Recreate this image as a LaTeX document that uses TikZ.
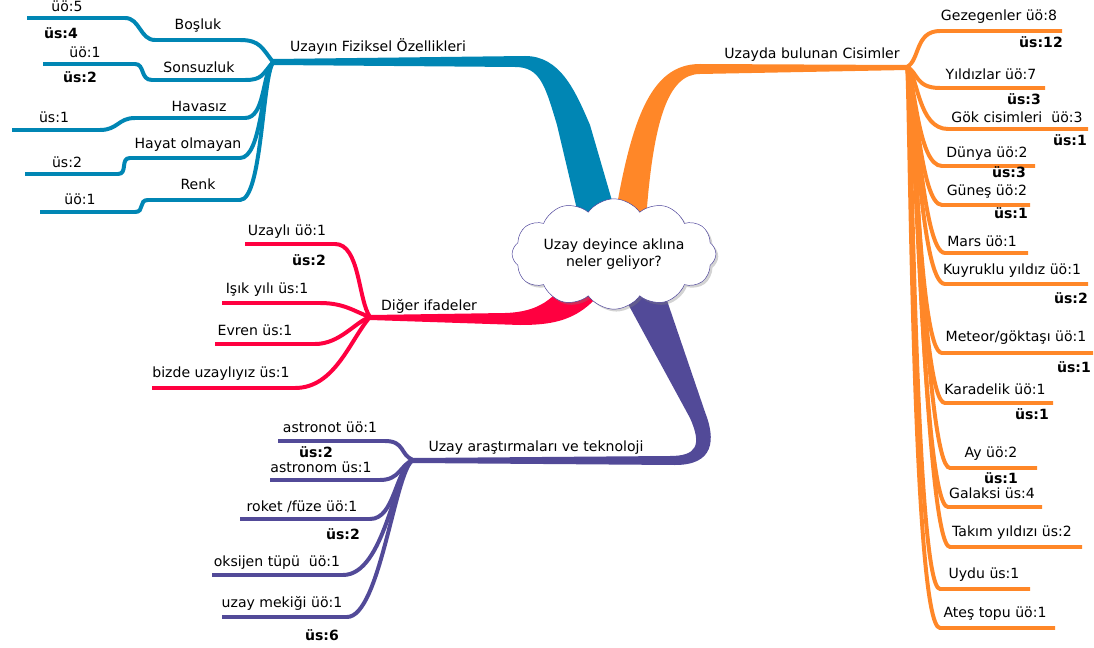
\documentclass[tikz,border=0pt]{standalone}
\usepackage{fontspec}
\setmainfont{DejaVu Sans}
\usetikzlibrary{shapes.symbols,shadows}
\definecolor{bluebr}{RGB}{0,134,180}
\definecolor{orangebr}{RGB}{255,135,40}
\definecolor{redbr}{RGB}{255,0,64}
\definecolor{purplebr}{RGB}{82,74,152}
\definecolor{cloudline}{RGB}{70,60,150}
\tikzset{
  lbl/.style={font=\fontsize{12}{14}\selectfont, inner sep=0pt},
  blbl/.style={font=\fontsize{12}{14}\selectfont\bfseries, inner sep=0pt},
  sub/.style={line width=3.4pt},
}
\begin{document}
\begin{tikzpicture}[x=0.03cm, y=-0.03cm]
\useasboundingbox (0,0) rectangle (1094,648);
% forks
\coordinate (fb) at (273,62);
\coordinate (fo) at (907,67);
\coordinate (fr) at (370,317);
\coordinate (fp) at (413,460);
% main branches
\fill [bluebr] (273,59) -- (525,56) .. controls (560,56) and (575,90) .. (590,125) -- (622,235) -- (583,235) -- (557,125) .. controls (545,85) and (540,67) .. (515,67) -- (273,65) -- cycle;
\fill [orangebr] (612,235) .. controls (630,120) and (650,64) .. (700,64) -- (907,65) -- (907,70) -- (700,74) .. controls (668,74) and (652,120) .. (645,235) -- cycle;
\fill [redbr] (370,315) -- (505,313) .. controls (540,312) and (555,298) .. (570,275) -- (610,280) .. controls (585,318) and (560,325) .. (520,325) -- (370,320) -- cycle;
\fill [purplebr] (615,280) -- (690,418) .. controls (702,445) and (697,456) .. (670,456) -- (413,458) -- (413,463) -- (675,465) .. controls (714,465) and (716,440) .. (705,412) -- (660,280) -- cycle;
\node [cloud, cloud puffs=12, cloud puff arc=110, aspect=2.3, draw=cloudline, fill=white,
  drop shadow={shadow xshift=2pt, shadow yshift=-2pt, opacity=0.35},
  minimum width=5.6cm, minimum height=2.5cm, align=center, lbl] (merkez) at (614,254) {Uzay deyince aklına\\neler geliyor?};
% blue
\coordinate (b1) at (27,18);
\coordinate (b2) at (43,64);
\coordinate (b3) at (12,130);
\coordinate (b4) at (25,174);
\coordinate (b5) at (40,212);
\draw [sub, bluebr] (fb) .. controls (262,48) and (260,40) .. (240,40) -- (155,40) .. controls (140,40) and (140,18) .. (125,18) -- (b1);
\draw [sub, bluebr] (fb) .. controls (262,75) and (262,80) .. (245,80) -- (152,80) .. controls (140,80) and (145,64) .. (135,64) -- (b2);
\draw [sub, bluebr] (fb) .. controls (262,75) and (265,118) .. (245,118) -- (135,118) .. controls (118,118) and (118,130) .. (100,130) -- (b3);
\draw [sub, bluebr] (fb) .. controls (262,80) and (262,158) .. (240,158) -- (130,158) .. controls (120,158) and (128,174) .. (118,174) -- (b4);
\draw [sub, bluebr] (fb) .. controls (262,80) and (262,200) .. (240,200) -- (148,200) .. controls (138,200) and (145,212) .. (135,212) -- (b5);
\node [lbl] (fizik) at (378,47) {Uzayın Fiziksel Özellikleri};
\node [lbl] (bosluk) at (198,26) {Boşluk};
\node [lbl] (bosluk1) at (67,6) {üö:5};
\node [blbl] (bosluk2) at (61,33) {üs:4};
\node [lbl] (sonsuz) at (199,67) {Sonsuzluk};
\node [lbl] (sonsuz1) at (85,52) {üö:1};
\node [blbl] (sonsuz2) at (80,77) {üs:2};
\node [lbl] (havasiz) at (199,106) {Havasız};
\node [lbl] (havasiz1) at (54,117) {üs:1};
\node [lbl] (hayat) at (188,145) {Hayat olmayan};
\node [lbl] (hayat1) at (67,162) {üs:2};
\node [lbl] (renk) at (198,184) {Renk};
\node [lbl] (renk1) at (80,199) {üö:1};
% orange
\coordinate (o1) at (1062,31);
\coordinate (o2) at (1045,88);
\coordinate (o3) at (1088,129);
\coordinate (o4) at (1035,166);
\coordinate (o5) at (1030,205);
\coordinate (o6) at (1028,253);
\coordinate (o7) at (1088,284);
\coordinate (o8) at (1093,353);
\coordinate (o9) at (1053,403);
\coordinate (o10) at (1037,468);
\coordinate (o11) at (1042,507);
\coordinate (o12) at (1082,547);
\coordinate (o13) at (1030,589);
\coordinate (o14) at (1055,628);
\draw [sub, orangebr] (fo) .. controls (920,60) and (915,31) .. (940,31) -- (o1);
\draw [sub, orangebr] (fo) .. controls (918,72) and (915,88) .. (940,88) -- (o2);
\draw [sub, orangebr] (fo) .. controls (918,75) and (918,129) .. (948,129) -- (o3);
\draw [sub, orangebr] (fo) .. controls (915,80) and (918,166) .. (942,166) -- (o4);
\draw [sub, orangebr] (fo) .. controls (915,80) and (920,205) .. (942,205) -- (o5);
\draw [sub, orangebr] (fo) .. controls (915,80) and (922,253) .. (945,253) -- (o6);
\draw [sub, orangebr] (fo) .. controls (915,80) and (920,284) .. (945,284) -- (o7);
\draw [sub, orangebr] (fo) .. controls (915,80) and (918,353) .. (942,353) -- (o8);
\draw [sub, orangebr] (fo) .. controls (915,80) and (920,403) .. (945,403) -- (o9);
\draw [sub, orangebr] (fo) .. controls (915,80) and (925,468) .. (950,468) -- (o10);
\draw [sub, orangebr] (fo) .. controls (915,80) and (922,507) .. (948,507) -- (o11);
\draw [sub, orangebr] (fo) .. controls (915,80) and (925,547) .. (950,547) -- (o12);
\draw [sub, orangebr] (fo) .. controls (912,80) and (915,589) .. (940,589) -- (o13);
\draw [sub, orangebr] (fo) .. controls (910,80) and (912,628) .. (940,628) -- (o14);
\node [lbl] (cisim) at (812,55) {Uzayda bulunan Cisimler};
\node [lbl] (gezegen) at (999,17) {Gezegenler üö:8};
\node [blbl] (gezegen2) at (1041,42) {üs:12};
\node [lbl] (yildiz) at (991,74) {Yıldızlar üö:7};
\node [blbl] (yildiz2) at (1024,99) {üs:3};
\node [lbl] (gok) at (1017,117) {Gök cisimleri\ \ üö:3};
\node [blbl] (gok2) at (1070,140) {üs:1};
\node [lbl] (dunya) at (987,154) {Dünya üö:2};
\node [blbl] (dunya2) at (1009,172) {üs:3};
\node [lbl] (gunes) at (987,192) {Güneş üö:2};
\node [blbl] (gunes2) at (1011,213) {üs:1};
\node [lbl] (mars) at (982,241) {Mars üö:1};
\node [lbl] (kuyruk) at (1012,271) {Kuyruklu yıldız üö:1};
\node [blbl] (kuyruk2) at (1071,298) {üs:2};
\node [lbl] (meteor) at (1016,338) {Meteor/göktaşı üö:1};
\node [blbl] (meteor2) at (1074,367) {üs:1};
\node [lbl] (kara) at (995,389) {Karadelik üö:1};
\node [blbl] (kara2) at (1032,414) {üs:1};
\node [lbl] (ay) at (991,454) {Ay üö:2};
\node [blbl] (ay2) at (1001,478) {üs:1};
\node [lbl] (galaksi) at (992,493) {Galaksi üs:4};
\node [lbl] (takim) at (1012,533) {Takım yıldızı üs:2};
\node [lbl] (uydu) at (984,575) {Uydu üs:1};
\node [lbl] (ates) at (995,614) {Ateş topu üö:1};
% red
\coordinate (r1) at (245,244);
\coordinate (r2) at (222,303);
\coordinate (r3) at (215,344);
\coordinate (r4) at (152,388);
\draw [sub, redbr] (fr) .. controls (358,300) and (360,244) .. (335,244) -- (r1);
\draw [sub, redbr] (fr) .. controls (355,312) and (345,303) .. (320,303) -- (r2);
\draw [sub, redbr] (fr) .. controls (355,322) and (340,344) .. (315,344) -- (r3);
\draw [sub, redbr] (fr) .. controls (350,340) and (335,388) .. (295,388) -- (r4);
\node [lbl] (diger) at (429,306) {Diğer ifadeler};
\node [lbl] (uzayli) at (287,232) {Uzaylı üö:1};
\node [blbl] (uzayli2) at (309,260) {üs:2};
\node [lbl] (isik) at (267,290) {Işık yılı üs:1};
\node [lbl] (evren) at (255,330) {Evren üs:1};
\node [lbl] (bizde) at (221,374) {bizde uzaylıyız üs:1};
% purple
\coordinate (p1) at (278,441);
\coordinate (p2) at (270,480);
\coordinate (p3) at (240,519);
\coordinate (p4) at (212,575);
\coordinate (p5) at (222,617);
\draw [sub, purplebr] (fp) .. controls (400,455) and (405,441) .. (385,441) -- (p1);
\draw [sub, purplebr] (fp) .. controls (400,465) and (400,480) .. (380,480) -- (p2);
\draw [sub, purplebr] (fp) .. controls (395,470) and (395,519) .. (370,519) -- (p3);
\draw [sub, purplebr] (fp) .. controls (395,470) and (385,575) .. (343,575) -- (p4);
\draw [sub, purplebr] (fp) .. controls (395,470) and (380,617) .. (347,617) -- (p5);
\node [lbl] (teknoloji) at (536,448) {Uzay araştırmaları ve teknoloji};
\node [lbl] (astronot) at (330,427) {astronot üö:1};
\node [blbl] (astronot2) at (316,452) {üs:2};
\node [lbl] (astronom) at (321,467) {astronom üs:1};
\node [lbl] (roket) at (302,507) {roket /füze üö:1};
\node [blbl] (roket2) at (343,534) {üs:2};
\node [lbl] (oksijen) at (277,563) {oksijen tüpü\ \ üö:1};
\node [lbl] (mekik) at (282,603) {uzay mekiği üö:1};
\node [blbl] (mekik2) at (322,635) {üs:6};
\end{tikzpicture}
\end{document}
